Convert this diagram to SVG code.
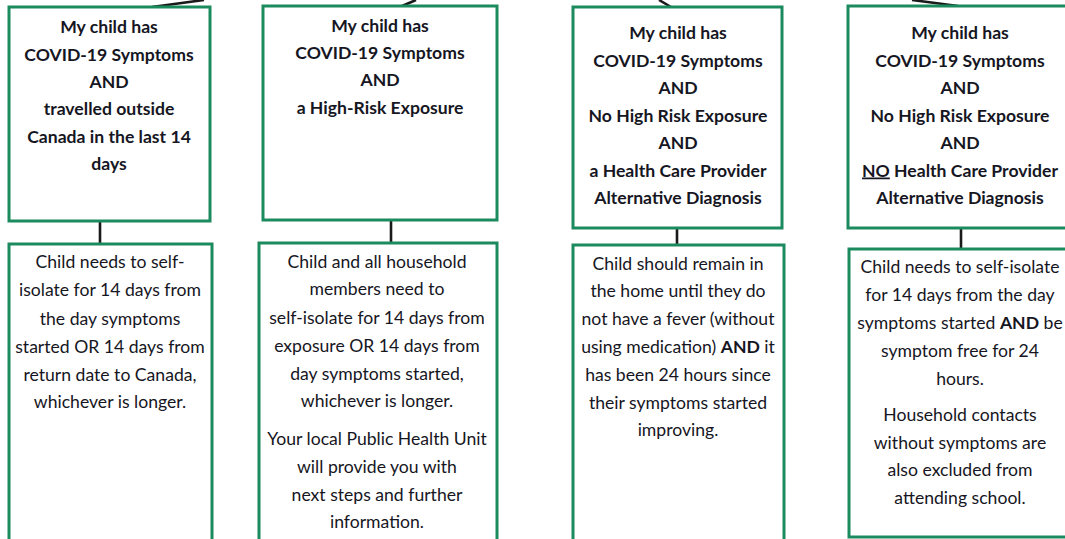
<svg xmlns="http://www.w3.org/2000/svg" width="1065" height="539" viewBox="0 0 1065 539">
<style>
.box{fill:#ffffff;stroke:#1b8a5e;stroke-width:3}
.conn{stroke:#1a1a1a;stroke-width:2.6;fill:none}
.h{font-family:Lato,"Liberation Sans",sans-serif;font-weight:bold;font-size:17.6px;fill:#161623;text-anchor:middle}
.b{font-family:Lato,"Liberation Sans",sans-serif;font-size:17.6px;fill:#161623;text-anchor:middle}
.bb{font-weight:bold}
</style>
<rect width="1065" height="539" fill="#ffffff"/>
<g id="connectors">
<line class="conn" x1="152" y1="7" x2="204" y2="0"/>
<line class="conn" x1="402" y1="6" x2="416" y2="0"/>
<line class="conn" x1="671" y1="7" x2="659" y2="0"/>
<line class="conn" x1="958" y1="6" x2="912" y2="0"/>
<line class="conn" x1="100" y1="221" x2="100" y2="244"/>
<line class="conn" x1="391" y1="220" x2="391" y2="243"/>
<line class="conn" x1="677" y1="228" x2="677" y2="245"/>
<line class="conn" x1="961" y1="228" x2="961" y2="249"/>
</g>
<g id="cond1">
<rect class="box" x="9" y="7" width="201" height="214"/>
<text class="h"><tspan x="109" y="33">My child has</tspan><tspan x="109" y="60.5">COVID-19 Symptoms</tspan><tspan x="109" y="88">AND</tspan><tspan x="109" y="115">travelled outside</tspan><tspan x="109" y="142.5">Canada in the last 14</tspan><tspan x="109" y="170">days</tspan></text>
</g>
<g id="cond2">
<rect class="box" x="263" y="6" width="234" height="214"/>
<text class="h"><tspan x="380" y="31.5">My child has</tspan><tspan x="380" y="59">COVID-19 Symptoms</tspan><tspan x="380" y="86">AND</tspan><tspan x="380" y="113.5">a High-Risk Exposure</tspan></text>
</g>
<g id="cond3">
<rect class="box" x="573" y="7" width="209" height="221"/>
<text class="h"><tspan x="678" y="39">My child has</tspan><tspan x="678" y="66.5">COVID-19 Symptoms</tspan><tspan x="678" y="94">AND</tspan><tspan x="678" y="121.5">No High Risk Exposure</tspan><tspan x="678" y="149">AND</tspan><tspan x="678" y="176.5">a Health Care Provider</tspan><tspan x="678" y="204">Alternative Diagnosis</tspan></text>
</g>
<g id="cond4">
<rect class="box" x="848" y="6" width="230" height="222"/>
<text class="h"><tspan x="960" y="39">My child has</tspan><tspan x="960" y="66.5">COVID-19 Symptoms</tspan><tspan x="960" y="94">AND</tspan><tspan x="960" y="121.5">No High Risk Exposure</tspan><tspan x="960" y="149">AND</tspan><tspan x="960" y="176.5"><tspan text-decoration="underline">NO</tspan> Health Care Provider</tspan><tspan x="960" y="204">Alternative Diagnosis</tspan></text>
</g>
<g id="action1">
<rect class="box" x="9" y="244" width="203" height="310"/>
<text class="b"><tspan x="110" y="268">Child needs to self-</tspan><tspan x="110" y="296">isolate for 14 days from</tspan><tspan x="110" y="324.5">the day symptoms</tspan><tspan x="110" y="352.5">started OR 14 days from</tspan><tspan x="110" y="380.5">return date to Canada,</tspan><tspan x="110" y="408">whichever is longer.</tspan></text>
</g>
<g id="action2">
<rect class="box" x="259" y="243" width="238" height="310"/>
<text class="b"><tspan x="377" y="267.5">Child and all household</tspan><tspan x="377" y="295">members need to</tspan><tspan x="377" y="324">self-isolate for 14 days from</tspan><tspan x="377" y="352">exposure OR 14 days from</tspan><tspan x="377" y="379.5">day symptoms started,</tspan><tspan x="377" y="407">whichever is longer.</tspan><tspan x="377" y="445">Your local Public Health Unit</tspan><tspan x="377" y="473">will provide you with</tspan><tspan x="377" y="500.5">next steps and further</tspan><tspan x="377" y="528">information.</tspan></text>
</g>
<g id="action3">
<rect class="box" x="573" y="245" width="211" height="310"/>
<text class="b"><tspan x="678" y="269.5">Child should remain in</tspan><tspan x="678" y="297">the home until they do</tspan><tspan x="678" y="325">not have a fever (without</tspan><tspan x="678" y="353">using medication) <tspan class="bb">AND</tspan> it</tspan><tspan x="678" y="381">has been 24 hours since</tspan><tspan x="678" y="408.5">their symptoms started</tspan><tspan x="678" y="436">improving.</tspan></text>
</g>
<g id="action4">
<rect class="box" x="849" y="249" width="229" height="288"/>
<text class="b"><tspan x="960" y="273">Child needs to self-isolate</tspan><tspan x="960" y="301">for 14 days from the day</tspan><tspan x="960" y="328.5">symptoms started <tspan class="bb">AND</tspan> be</tspan><tspan x="960" y="357">symptom free for 24</tspan><tspan x="960" y="384.5">hours.</tspan><tspan x="960" y="420.5">Household contacts</tspan><tspan x="960" y="448.5">without symptoms are</tspan><tspan x="960" y="476">also excluded from</tspan><tspan x="960" y="504">attending school.</tspan></text>
</g>
</svg>
